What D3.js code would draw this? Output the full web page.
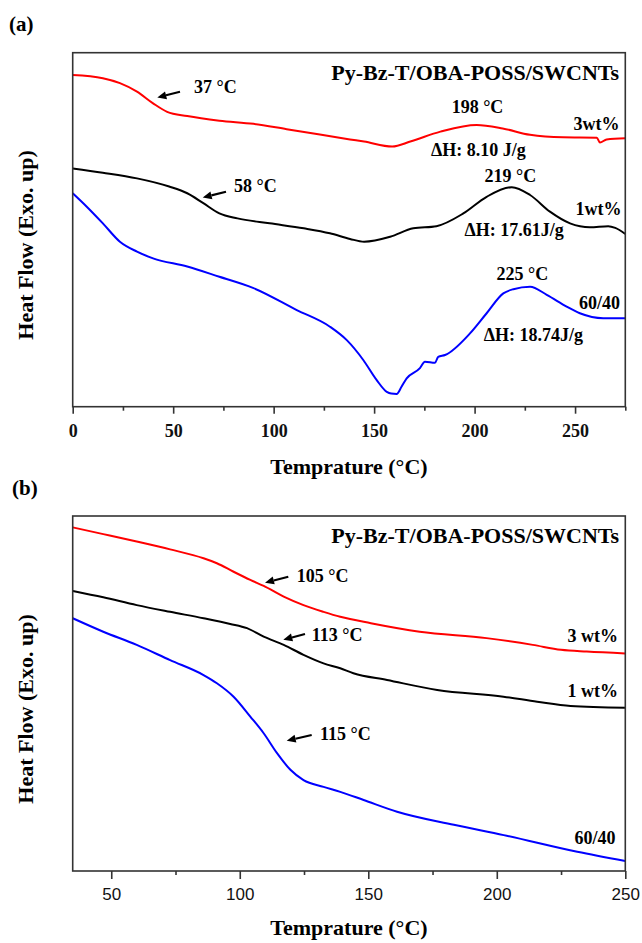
<!DOCTYPE html>
<html><head><meta charset="utf-8">
<script src="https://cdn.jsdelivr.net/npm/d3@7"></script>
<style>body{margin:0;background:#fff}svg{display:block}</style>
</head><body><svg id="c" width="642" height="943"></svg>
<script>
// ---------- DATA (temperature °C, heat flow a.u.) ----------
const chartTitle = "Py-Bz-T/OBA-POSS/SWCNTs";
const seriesLabelsA = ["3wt%", "1wt%", "60/40"];
const seriesLabelsB = ["3 wt%", "1 wt%", "60/40"];

// Panel (a): heating scans
const redA = [[0,93.7],[15,92.8],[23.5,91.4],[32,89.0],[40,85.7],[47,83.3],[57,82.1],[73,80.8],[90,79.9],[106.5,78.4],[123,76.9],[138,75.5],[145,74.9],[159,73.5],[168,74.9],[183,77.7],[201,79.6],[214,78.6],[227.6,76.8],[244,76.1],[260.8,76.0],[262.4,74.6],[265.7,75.5],[275,75.8]];
const blackA = [[0,67.3],[15,66.1],[32,64.5],[48,62.2],[57,60.3],[65,57.5],[73,54.6],[82,53.2],[98,51.8],[115,50.4],[128,49.0],[138,47.4],[145,46.6],[158,48.0],[169.5,50.4],[181,51.0],[194.4,54.6],[206,59.3],[218.5,62.0],[227.6,59.8],[237.5,55.1],[247.5,51.8],[257.4,50.7],[266.5,51.0],[270,50.5],[275,48.8]];
const blueA = [[0,60.3],[7,56.5],[15,51.8],[23.5,46.6],[32,43.8],[40,41.9],[57,39.6],[73,36.7],[90,33.5],[111.5,27.3],[128,22.6],[136.4,18.8],[144.6,13.2],[151.3,7.5],[156.3,4.2],[158.5,3.7],[161.2,3.6],[163.7,5.7],[166.2,8.0],[172.8,10.9],[175.3,12.7],[180.3,12.4],[181.9,14.1],[185.3,14.6],[197.7,20.7],[206,26.4],[214.3,32.0],[219.3,33.2],[227.6,33.9],[235.9,31.6],[245.8,28.3],[252.4,26.4],[264,25.0],[275,25.0]];

// Panel (b): second scans
const redB = [[35,96.8],[46.9,94.9],[59.9,92.8],[72.9,90.6],[85.9,88.1],[91.1,86.7],[97.6,84.3],[104.1,82.0],[109.3,80.3],[117.1,77.3],[124.8,74.9],[132.6,73.0],[139.1,71.6],[151,69.8],[170,67.4],[196,65.6],[214,63.7],[225,62.3],[235,61.8],[250,61.3]];
const blackB = [[35,78.9],[46.9,77.1],[59.9,74.9],[72.9,73.0],[85.9,71.2],[96.3,69.6],[102.8,68.4],[109.3,66.0],[117.1,63.7],[124.8,60.9],[132.6,58.5],[139.1,57.1],[144.2,55.7],[157.3,53.8],[176.8,51.0],[202.6,49.1],[215.7,47.7],[228.7,46.5],[250,46.0]];
const blueB = [[35,71.2],[46.9,67.4],[59.9,63.7],[72.9,59.4],[85.9,55.2],[91.1,52.9],[97.6,49.1],[104.1,43.5],[109.3,38.8],[114.5,33.2],[119.7,28.5],[124.8,25.6],[132.6,23.7],[139.1,22.3],[148.2,20.0],[161.2,16.7],[183.3,13.0],[202.7,10.1],[231.3,5.4],[250,2.8]];

const xTicksA = [0, 50, 100, 150, 200, 250];
const xMinorA = [25, 75, 125, 175, 225, 275];
const xTicksB = [50, 100, 150, 200, 250];
const xMinorB = [75, 125, 175, 225];

const annotA = ["37 °C", "58 °C", "198 °C", "ΔH: 8.10 J/g", "219 °C", "ΔH: 17.61J/g", "225 °C", "ΔH: 18.74J/g"];
const annotB = ["105 °C", "113 °C", "115 °C"];

// ---------- DRAWING ----------
const svg = d3.select("#c");
const serif = "'Liberation Serif','Times New Roman',serif";
const sans = "'Liberation Sans',Arial,sans-serif";
const colors = ["#ff0000", "#000000", "#0000ff"];

function txt(x, y, s, opt = {}) {
  return svg.append("text").attr("x", x).attr("y", y).text(s)
    .attr("font-family", opt.family || serif)
    .attr("font-weight", opt.weight || "bold")
    .attr("font-size", opt.size || 18)
    .attr("text-anchor", opt.anchor || "start")
    .attr("fill", "#000");
}

function arrow(x1, y1, x2, y2) {
  // tail (x1,y1) -> head (x2,y2)
  const dx = x2 - x1, dy = y2 - y1, L = Math.hypot(dx, dy);
  const ux = dx / L, uy = dy / L, hl = 9, hw = 4;
  const bx = x2 - ux * hl, by = y2 - uy * hl;
  svg.append("line").attr("x1", x1).attr("y1", y1).attr("x2", bx).attr("y2", by)
    .attr("stroke", "#000").attr("stroke-width", 2.2);
  svg.append("polygon")
    .attr("points", `${x2},${y2} ${bx - uy * hw},${by + ux * hw} ${bx + uy * hw},${by - ux * hw}`)
    .attr("fill", "#000");
}

function panel(cfg) {
  const x = d3.scaleLinear().domain(cfg.xDomain).range([cfg.left, cfg.right]);
  const y = d3.scaleLinear().domain([0, 100]).range([cfg.bottom, cfg.top]);
  const line = d3.line().x(d => x(d[0])).y(d => y(d[1])).curve(d3.curveMonotoneX);
  const g = svg.append("g");
  cfg.series.forEach((s, i) => {
    g.append("path").attr("d", line(s)).attr("fill", "none")
      .attr("stroke", colors[i]).attr("stroke-width", 2).attr("stroke-linejoin", "round");
  });
  // frame
  g.append("rect").attr("x", cfg.left).attr("y", cfg.top)
    .attr("width", cfg.right - cfg.left).attr("height", cfg.bottom - cfg.top)
    .attr("fill", "none").attr("stroke", "#333").attr("stroke-width", 1.6);
  // axis (major)
  const axM = g.append("g").attr("transform", `translate(0,${cfg.bottom})`)
    .call(d3.axisBottom(x).tickValues(cfg.ticks).tickSize(cfg.major).tickFormat(d3.format("d")));
  axM.select(".domain").remove();
  axM.selectAll(".tick line").attr("stroke", "#333").attr("stroke-width", 1.6);
  axM.selectAll(".tick text").attr("y", cfg.labelOffset).attr("dy", null)
    .attr("font-family", cfg.tickFamily).attr("font-weight", cfg.tickWeight)
    .attr("font-size", cfg.tickSize).attr("fill", "#111");
  // minor
  const axm = g.append("g").attr("transform", `translate(0,${cfg.bottom})`)
    .call(d3.axisBottom(x).tickValues(cfg.minor).tickSize(4).tickFormat(""));
  axm.select(".domain").remove();
  axm.selectAll(".tick line").attr("stroke", "#333").attr("stroke-width", 1.6);
  return { x, y };
}

// Panel (a)
panel({ xDomain: [0, 275], left: 72.7, right: 625.3, top: 52.7, bottom: 406.7,
  series: [redA, blackA, blueA], ticks: xTicksA, minor: xMinorA, major: 7,
  labelOffset: 30.5, tickFamily: serif, tickWeight: "bold", tickSize: 18 });
// Panel (b)
panel({ xDomain: [35, 250], left: 72.7, right: 625.3, top: 516, bottom: 871,
  series: [redB, blackB, blueB], ticks: xTicksB, minor: xMinorB, major: 8,
  labelOffset: 29, tickFamily: sans, tickWeight: "normal", tickSize: 17 });

// panel letters
txt(9, 31, "(a)", { size: 21 });
txt(12, 495, "(b)", { size: 21 });

// titles
txt(619, 79.5, chartTitle, { size: 22, anchor: "end" });
txt(619, 542.5, chartTitle, { size: 22, anchor: "end" });

// axis titles
txt(349, 474, "Temprature (°C)", { size: 22, anchor: "middle" });
txt(349, 935, "Temprature (°C)", { size: 22, anchor: "middle" });
txt(0, 0, "Heat Flow (Exo. up)", { size: 22, anchor: "middle" })
  .attr("transform", "translate(32.5,245) rotate(-90)");
txt(0, 0, "Heat Flow (Exo. up)", { size: 22, anchor: "middle" })
  .attr("transform", "translate(32.5,709) rotate(-90)");

// series labels (a)
txt(619.5, 130, seriesLabelsA[0], { anchor: "end" });
txt(621.5, 215, seriesLabelsA[1], { anchor: "end" });
txt(620, 309, seriesLabelsA[2], { anchor: "end" });
// series labels (b)
txt(618, 641.5, seriesLabelsB[0], { anchor: "end" });
txt(618, 696.5, seriesLabelsB[1], { anchor: "end" });
txt(615.5, 843.5, seriesLabelsB[2], { anchor: "end" });

// annotations (a)
txt(194, 93.3, annotA[0]);
arrow(180, 91.7, 157.3, 97.5);
txt(234, 191.7, annotA[1]);
arrow(226, 191.7, 202.7, 197.5);
txt(477.5, 112.8, annotA[2], { anchor: "middle" });
txt(478.3, 155.5, annotA[3], { anchor: "middle" });
txt(510.3, 182.3, annotA[4], { anchor: "middle" });
txt(514.2, 235.5, annotA[5], { anchor: "middle" });
txt(522.3, 280, annotA[6], { anchor: "middle" });
txt(533.3, 340.7, annotA[7], { anchor: "middle" });

// annotations (b)
txt(296.7, 582, annotB[0]);
arrow(288.3, 576.7, 265, 582.7);
txt(311.7, 641, annotB[1]);
arrow(305, 634, 283.3, 639.8);
txt(320, 740, annotB[2]);
arrow(311.7, 735, 286.7, 740.7);
</script></body></html>
